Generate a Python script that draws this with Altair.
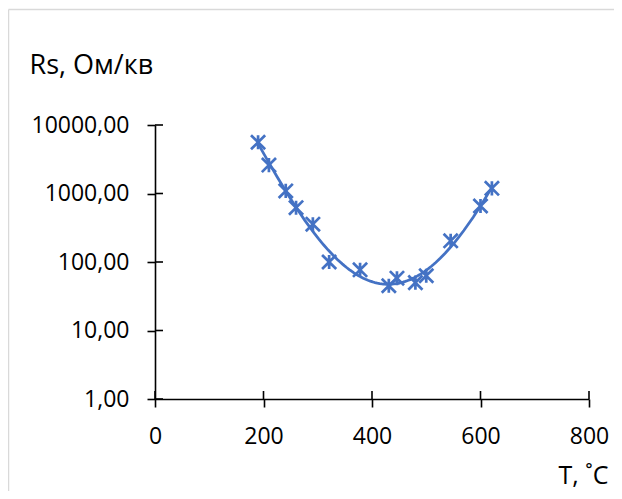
import altair as alt
import pandas as pd

# Data
T = [190, 210, 241, 260, 291, 321, 378, 431, 446, 480, 500, 545, 600, 621]
Rs = [5600, 2600, 1090, 620, 356, 100, 77, 45, 58, 50, 63, 204, 657, 1190]
x_ticks = [0, 200, 400, 600, 800]
y_ticks = [1, 10, 100, 1000, 10000]

df = pd.DataFrame({"T": T, "Rs": Rs})
BLUE = "#4472C4"
W, H = 434, 274
FONT = "Open Sans"

xs = alt.Scale(domain=[0, 800], nice=False, zero=False)
ys = alt.Scale(type="log", domain=[1, 10000], nice=False)

xaxis = alt.Axis(
    values=x_ticks, format="d", grid=False,
    tickSize=8, tickWidth=1.6, tickColor="black",
    domainColor="black", domainWidth=1.6,
    labelFont=FONT, labelFontSize=23, labelColor="black", labelPadding=18,
    labelFlush=False, labelOverlap=False,
    title="T, ˚C", titleFont=FONT, titleFontSize=25, titleFontWeight="normal",
    titleColor="black", titleAlign="right", titleBaseline="alphabetic",
    titleX=453, titleY=84, titleAngle=0,
)
yaxis = alt.Axis(
    values=y_ticks, grid=False,
    labelExpr="replace(format(datum.value, '.2f'), '.', ',')",
    tickSize=8, tickWidth=1.6, tickColor="black",
    domainColor="black", domainWidth=1.6,
    labelFont=FONT, labelFontSize=23, labelColor="black", labelPadding=18,
    labelFlush=False, labelOverlap=False,
    title="Rs, Ом/кв", titleFont=FONT, titleFontSize=27, titleFontWeight="normal",
    titleColor="black", titleAlign="left", titleBaseline="alphabetic",
    titleX=-126, titleY=-52, titleAngle=0,
)

star = "M-1,-1L1,1M1,-1L-1,1M0,-1L0,1"

points = alt.Chart(df).mark_point(
    shape=star, size=200, filled=False, color=BLUE, strokeWidth=2.7, opacity=1
).encode(
    x=alt.X("T:Q", scale=xs, axis=xaxis),
    y=alt.Y("Rs:Q", scale=ys, axis=yaxis),
)

line = alt.Chart(df).transform_calculate(
    logR="log(datum.Rs)/LN10"
).transform_regression(
    "T", "logR", method="poly", order=4
).transform_calculate(
    Rfit="pow(10, datum.logR)"
).mark_line(color=BLUE, strokeWidth=2.75).encode(
    x=alt.X("T:Q", scale=xs, axis=xaxis),
    y=alt.Y("Rfit:Q", scale=ys, axis=yaxis),
)

ytick_df = pd.DataFrame({"v": y_ticks})
xtick_df = pd.DataFrame({"v": x_ticks})
inner_y = alt.Chart(ytick_df).mark_rule(color="black", strokeWidth=1.6).encode(
    y=alt.Y("v:Q", scale=ys, axis=yaxis), x=alt.value(0), x2=alt.value(8)
)
inner_x = alt.Chart(xtick_df).mark_rule(color="black", strokeWidth=1.6).encode(
    x=alt.X("v:Q", scale=xs, axis=xaxis), y=alt.value(H - 8), y2=alt.value(H)
)

one = pd.DataFrame({"a": [0]})
frame_v = alt.Chart(one).mark_rule(color="#D9D9D9", strokeWidth=1.5).encode(
    x=alt.value(-146.5), y=alt.value(-115.5), y2=alt.value(H + 95)
)
frame_h = alt.Chart(one).mark_rule(color="#D9D9D9", strokeWidth=1.5).encode(
    x=alt.value(-146.5), x2=alt.value(W + 30), y=alt.value(-115.5)
)

chart = alt.layer(line, points, inner_y, inner_x, frame_v, frame_h).properties(
    width=W, height=H,
    autosize=alt.AutoSizeParams(type="none"),
    padding={"left": 147, "top": 117, "right": 25, "bottom": 92},
).configure(background="white").configure_view(stroke=None)

chart.save("out.html", embed_options={"renderer": "svg", "actions": False})
